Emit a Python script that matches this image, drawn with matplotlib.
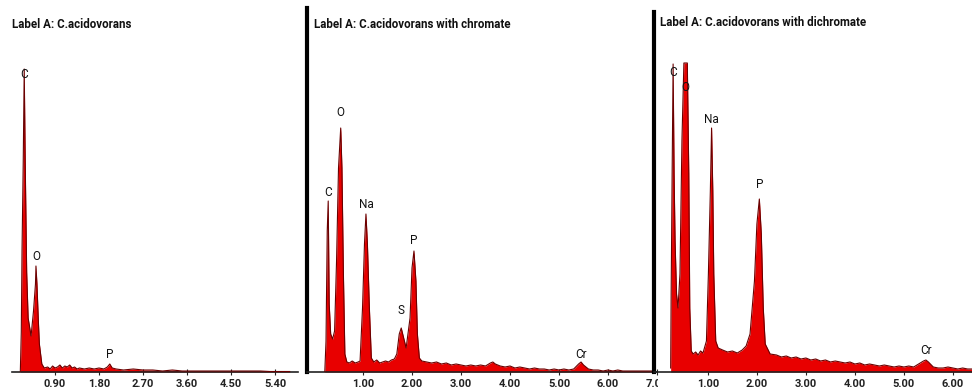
import numpy as np
import matplotlib
matplotlib.use("Agg")
import matplotlib.pyplot as plt
from matplotlib.transforms import Bbox, TransformedBbox

# EDX spectra, energy in keV, counts (arbitrary units)
titles = ["Label A: C.acidovorans",
          "Label A: C.acidovorans with chromate",
          "Label A: C.acidovorans with dichromate"]

a_energy = [0.19, 0.21, 0.225, 0.25, 0.27, 0.29, 0.32, 0.35, 0.41, 0.46, 0.50, 0.51,
            0.53, 0.56, 0.58, 0.63, 0.68, 0.75, 0.80, 0.85, 0.90, 0.95, 1.00, 1.05,
            1.10, 1.15, 1.20, 1.25, 1.30, 1.35, 1.40, 1.50, 1.60, 1.70, 1.80, 1.90,
            1.97, 2.02, 2.07, 2.15, 2.30, 2.50, 2.70, 2.90, 3.10, 3.30, 3.50, 3.70,
            3.90, 4.10, 4.30, 4.50, 4.70, 4.90, 5.10, 5.30, 5.50, 5.70]
a_counts = [0, 40, 121, 211, 303, 211, 100, 54, 36, 61, 88, 106,
            88, 50, 28, 8, 4, 5, 3, 6, 4, 5, 7, 4,
            6, 5, 7, 4, 5, 3, 4, 3, 4, 3, 4, 3,
            5, 8, 4, 3, 2, 3, 2, 2, 1, 2, 1, 1,
            1, 1, 1, 1, 1, 1, 1, 0.5, 0.5, 0.5]

b_energy = [0.22, 0.245, 0.27, 0.29, 0.31, 0.34, 0.38, 0.42, 0.46, 0.50, 0.545, 0.57,
            0.60, 0.63, 0.67, 0.72, 0.78, 0.84, 0.90, 0.94, 0.99, 1.03, 1.06, 1.09,
            1.13, 1.17, 1.22, 1.28, 1.34, 1.40, 1.46, 1.52, 1.58, 1.64, 1.69, 1.74,
            1.78, 1.81, 1.88, 1.96, 2.00, 2.04, 2.08, 2.11, 2.15, 2.20, 2.30, 2.40,
            2.50, 2.60, 2.70, 2.80, 2.90, 3.00, 3.10, 3.20, 3.30, 3.40, 3.50, 3.60,
            3.65, 3.70, 3.80, 3.90, 4.00, 4.10, 4.20, 4.30, 4.40, 4.50, 4.60, 4.70,
            4.80, 4.90, 5.00, 5.10, 5.20, 5.30, 5.40, 5.45, 5.50, 5.60, 5.70, 5.80,
            5.90, 6.00, 6.10, 6.20, 6.30, 6.40, 6.50, 6.60, 6.70, 6.80, 6.90]
b_counts = [0, 31, 141, 171, 68, 38, 33, 41, 111, 204, 244, 204,
            98, 18, 10, 9, 11, 9, 10, 11, 64, 128, 158, 128,
            64, 14, 10, 12, 9, 10, 11, 10, 12, 13, 18, 38,
            44, 38, 24, 54, 104, 121, 91, 38, 14, 11, 10, 9,
            10, 8, 9, 7, 8, 7, 6, 7, 6, 7, 6, 9,
            10, 8, 6, 5, 6, 4, 5, 4, 3, 4, 3, 3,
            2, 3, 2, 3, 2, 3, 8, 10, 7, 3, 2, 2,
            1, 2, 1, 2, 1, 1, 1, 1, 1, 1, 1]

c_energy = [0.24, 0.25, 0.27, 0.29, 0.31, 0.33, 0.36, 0.39, 0.43, 0.47, 0.51, 0.58,
            0.61, 0.63, 0.66, 0.70, 0.75, 0.80, 0.85, 0.90, 0.97, 1.01, 1.05, 1.075,
            1.10, 1.12, 1.16, 1.21, 1.30, 1.40, 1.50, 1.60, 1.70, 1.78, 1.86, 1.95,
            2.00, 2.05, 2.09, 2.13, 2.17, 2.27, 2.40, 2.50, 2.60, 2.70, 2.80, 2.90,
            3.00, 3.10, 3.20, 3.30, 3.40, 3.50, 3.60, 3.70, 3.80, 3.90, 4.00, 4.10,
            4.20, 4.30, 4.40, 4.50, 4.60, 4.70, 4.80, 4.90, 5.00, 5.10, 5.20, 5.30,
            5.40, 5.45, 5.50, 5.60, 5.70, 5.80, 5.90, 6.00, 6.10, 6.20, 6.30, 6.40]
c_counts = [4, 78, 198, 308, 198, 131, 78, 64, 98, 231, 309, 309,
            198, 64, 21, 18, 20, 17, 21, 19, 31, 98, 181, 244,
            181, 98, 31, 24, 22, 20, 21, 19, 22, 26, 38, 91,
            148, 173, 138, 64, 28, 18, 17, 15, 16, 14, 15, 13,
            14, 12, 13, 11, 12, 10, 11, 10, 9, 10, 8, 9,
            7, 8, 7, 6, 7, 6, 5, 6, 5, 6, 5, 8,
            11, 12, 10, 5, 4, 4, 5, 4, 3, 4, 3, 3]

# peak labels: element, energy
a_peaks = [("C", 0.27), ("O", 0.51), ("P", 2.02)]
b_peaks = [("C", 0.29), ("O", 0.545), ("Na", 1.06), ("S", 1.78), ("P", 2.04), ("Cr", 5.45)]
c_peaks = [("C", 0.29), ("O", 0.55), ("Na", 1.075), ("P", 2.05), ("Cr", 5.45)]

a_ticks = [0.90, 1.80, 2.70, 3.60, 4.50, 5.40]
b_ticks = [1.00, 2.00, 3.00, 4.00, 5.00, 6.00, 7.00]
c_ticks = [1.00, 2.00, 3.00, 4.00, 5.00, 6.00]

# label offsets in pixels above the peak top
a_off = [-5, 10, 10]
b_off = [8, 15, 9, 17, 11, 8]
c_off = [-9, -25, 8, 14, 10]

W, H = 972, 390
narrow = ["Roboto", "DejaVu Sans"]
RED = "#e80000"
EDGE = "#6b0000"

fig = plt.figure(figsize=(W / 100, H / 100), dpi=100)


def make_ax(x0, x1, ytop, xlim, ylim_top):
    ax = fig.add_axes([x0 / W, (H - 372) / H, (x1 - x0) / W, (372 - ytop) / H])
    ax.set_xlim(*xlim)
    ax.set_ylim(0, ylim_top)
    ax.set_facecolor("none")
    for s in ["top", "right", "left"]:
        ax.spines[s].set_visible(False)
    ax.spines["bottom"].set_linewidth(1.2)
    ax.spines["bottom"].set_color("#222222")
    ax.set_yticks([])
    return ax


def draw(ax, energy, counts, peaks, offs, ticks):
    e = np.array(energy)
    c = np.array(counts)
    ax.fill_between(e, 0, c, color=RED, lw=0, zorder=2)
    ax.plot(e, c, color=EDGE, lw=0.8, zorder=3)
    for (el, pe), off in zip(peaks, offs):
        top = np.interp(pe, e, c)
        ax.annotate(el, (pe, top), xytext=(0, off), textcoords="offset pixels",
                    ha="center", va="center", fontsize=8.5, family=narrow,
                    color="#111111", zorder=4)
    ax.set_xticks(ticks)
    ax.set_xticklabels(["%.2f" % t for t in ticks])
    ax.tick_params(axis="x", direction="inout", length=5, width=0.8, pad=2.5,
                   labelsize=8, colors="#222222")
    for lab in ax.get_xticklabels():
        lab.set_family(narrow)
        lab.set_fontweight("bold")


ax1 = make_ax(12, 298, 8, (0.02, 5.87), 364)
draw(ax1, a_energy, a_counts, a_peaks, a_off, a_ticks)

ax2 = make_ax(307, 657, 8, (-0.143, 7.0), 364)
ax2.spines["left"].set_visible(True)
ax2.spines["left"].set_linewidth(3)
ax2.spines["left"].set_color("black")
draw(ax2, b_energy, b_counts, b_peaks, b_off, b_ticks)

ax3 = make_ax(654, 972, 12, (-0.10, 6.39), 360)
ax3.spines["left"].set_visible(True)
ax3.spines["left"].set_linewidth(3)
ax3.spines["left"].set_color("black")
draw(ax3, c_energy, c_counts, c_peaks, c_off, c_ticks)

# the 7.00 label of the middle panel is cut by the third panel
clip = TransformedBbox(Bbox([[0, 0], [658 / W, 1]]), fig.transFigure)
for lab in ax2.get_xticklabels():
    lab.set_clip_box(clip)
    lab.set_clip_on(True)

for x, y, t in zip([12, 314, 660], [25, 25, 23], titles):
    fig.text(x / W, 1 - y / H, t, ha="left", va="center", fontsize=8.3,
             fontweight="bold", family=narrow, color="#111111")

fig.savefig("out.png", dpi=100)
